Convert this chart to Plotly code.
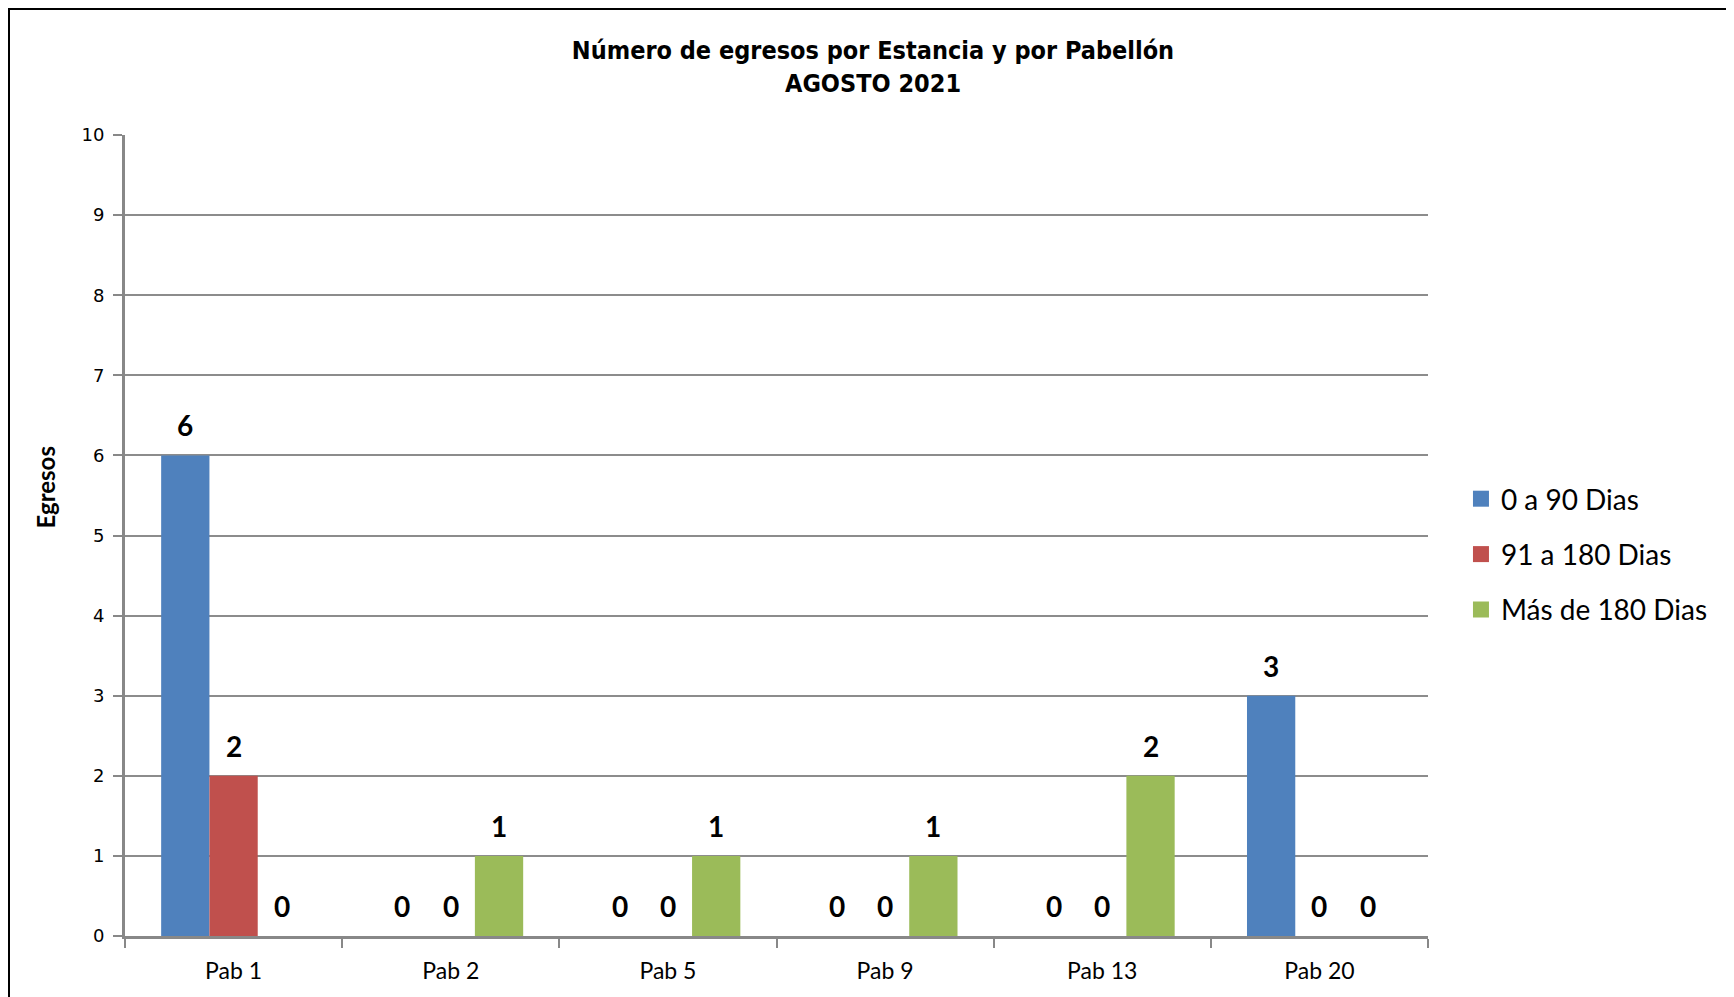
import plotly.graph_objects as go

categories = ["Pab 1", "Pab 2", "Pab 5", "Pab 9", "Pab 13", "Pab 20"]
series_names = ["0 a 90 Dias", "91 a 180 Dias", "Más de 180 Dias"]
s_0_90 = [6, 0, 0, 0, 0, 3]
s_91_180 = [2, 0, 0, 0, 0, 0]
s_mas_180 = [0, 1, 1, 1, 2, 0]
y_ticks = list(range(0, 11))

colors = ["#4F81BD", "#C0504D", "#9BBB59"]
OFF = 8  # browser body margin
W, H = 1734 - OFF, 997 - OFF
L, R, T, B = 125 - OFF, 1428 - OFF, 135 - OFF, 936 - OFF
BARGAP = 0.333

fig = go.Figure()
all_series = [s_0_90, s_91_180, s_mas_180]
for i, (name, vals) in enumerate(zip(series_names, all_series)):
    fig.add_trace(go.Bar(
        x=categories, y=vals, name=name,
        marker=dict(color=colors[i], line=dict(width=0)),
        showlegend=False, hoverinfo="x+y+name",
    ))
# legend entries with larger square swatches
for i, name in enumerate(series_names):
    fig.add_trace(go.Scatter(
        x=[categories[0]], y=[None], mode="markers", name=name,
        marker=dict(symbol="square", size=16, color=colors[i]),
        legendgroup=f"g{i}", showlegend=True, hoverinfo="skip",
    ))

# data labels
cat_w = (R - L) / len(categories)
bar_w = cat_w * (1 - BARGAP) / len(series_names)
for i, vals in enumerate(all_series):
    for c, v in zip(categories, vals):
        fig.add_annotation(
            x=c, y=v, xref="x", yref="y", text=f"<b>{v}</b>", showarrow=False,
            xanchor="center", yanchor="bottom", xshift=(i - 1) * bar_w, yshift=11,
            font=dict(family="Lato, sans-serif", size=28, color="black"),
        )

fig.update_layout(
    width=W, height=H,
    margin=dict(l=L, r=W - R, t=T, b=H - B, pad=0),
    paper_bgcolor="white", plot_bgcolor="white",
    barmode="group", bargap=BARGAP, bargroupgap=0,
    title=dict(
        text="<b>Número de egresos por Estancia y por Pabellón<br>AGOSTO 2021</b>",
        x=(873 - OFF) / W, xanchor="center", y=1 - 51 / H, yanchor="top",
        font=dict(family="DejaVu Sans Condensed, Liberation Sans Narrow, sans-serif", size=25, color="black"),
    ),
    legend=dict(
        x=1.0253, xanchor="left", y=(B - 466) / (B - T), yanchor="top",
        font=dict(family="Lato, sans-serif", size=28, color="black"),
        tracegroupgap=16, itemwidth=30, bgcolor="rgba(0,0,0,0)",
        itemsizing="trace",
    ),
    showlegend=True,
)
fig.update_xaxes(
    showline=True, linecolor="#888888", linewidth=3,
    ticks="outside", tickson="boundaries", ticklen=9, tickcolor="#888888", tickwidth=2,
    tickfont=dict(family="Lato, sans-serif", size=23, color="black"),
    ticklabelstandoff=12,
    showgrid=False,
)
fig.update_yaxes(
    range=[0, 10], tickvals=y_ticks, ticktext=[str(v) for v in y_ticks],
    showline=True, linecolor="#888888", linewidth=3,
    ticks="outside", ticklen=9, tickcolor="#888888", tickwidth=2,
    tickfont=dict(family="DejaVu Sans, sans-serif", size=18, color="black"),
    ticklabelstandoff=5,
    showgrid=True, gridcolor="#8c8c8c", gridwidth=2, zeroline=False,
)
fig.add_annotation(
    text="<b>Egresos</b>", textangle=-90, xref="paper", yref="paper",
    x=(36.5 - L) / (R - L), y=(B - 480) / (B - T), xanchor="center", yanchor="middle",
    showarrow=False, font=dict(family="Lato, sans-serif", size=24, color="black"),
)
fig.add_shape(
    type="rect", xref="paper", yref="paper",
    x0=(1 - L) / (R - L), x1=(W + 20 - L) / (R - L),
    y0=(B - (H + 20)) / (B - T), y1=(B - 1) / (B - T),
    line=dict(color="black", width=2), fillcolor="rgba(0,0,0,0)", layer="above",
)
fig.write_html("out.html")
